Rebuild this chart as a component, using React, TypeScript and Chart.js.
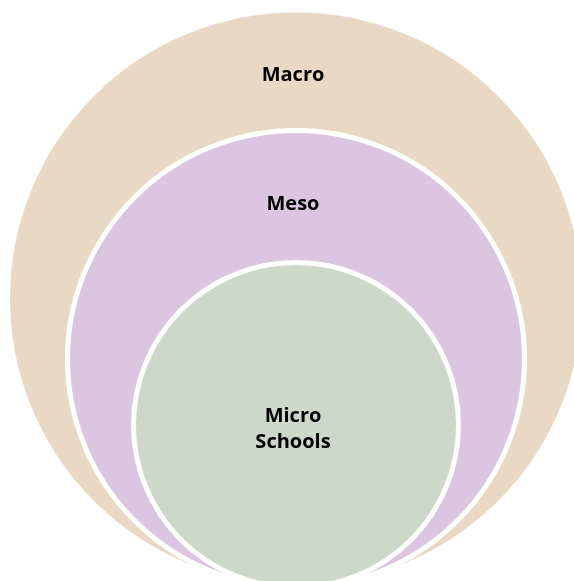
import React, { useEffect, useRef } from "react";
import { Chart, registerables } from "chart.js";

Chart.register(...registerables);

// Nested circles (stacked Venn): outermost first
const categories: string[][] = [["Macro"], ["Meso"], ["Micro", "Schools"]];
const centerX: number[] = [296, 296, 296];
const centerY: number[] = [298.5, 359, 425];
const radii: number[] = [288.5, 228.5, 162.5];
const labelX: number[] = [293, 293, 293];
const labelY: number[] = [75, 204, 429];
const fillColors: string[] = ["#E9D8C3", "#DCC5E0", "#CDD8C9"];

const WIDTH = 574;
const HEIGHT = 581;

const labelPlugin = {
  id: "circleLabels",
  afterDatasetsDraw(chart: any) {
    const { ctx, scales } = chart;
    ctx.save();
    ctx.fillStyle = "#000000";
    ctx.textAlign = "center";
    ctx.textBaseline = "middle";
    ctx.font = "bold 20px 'Open Sans', sans-serif";
    const lineH = 26;
    categories.forEach((lines, i) => {
      const x = scales.x.getPixelForValue(labelX[i]);
      const y = scales.y.getPixelForValue(labelY[i]);
      const start = y - ((lines.length - 1) * lineH) / 2;
      lines.forEach((t, j) => ctx.fillText(t, x, start + j * lineH));
    });
    ctx.restore();
  },
};

export default function App() {
  const ref = useRef<HTMLCanvasElement | null>(null);

  useEffect(() => {
    document.body.style.margin = "0";
    const canvas = ref.current;
    if (!canvas) return;
    const chart = new Chart(canvas, {
      type: "bubble",
      data: {
        labels: categories.map((c) => c.join(" ")),
        datasets: [
          {
            data: centerX.map((x, i) => ({ x, y: centerY[i], r: radii[i] })),
            backgroundColor: fillColors,
            borderColor: "#FFFFFF",
            borderWidth: 5,
            clip: false as any,
          },
        ],
      },
      options: {
        animation: false,
        responsive: true,
        maintainAspectRatio: false,
        events: [],
        layout: { padding: 0, autoPadding: false },
        plugins: {
          legend: { display: false },
          tooltip: { enabled: false },
        },
        scales: {
          x: { type: "linear", min: 0, max: WIDTH, display: false },
          y: { type: "linear", min: 0, max: HEIGHT, reverse: true, display: false },
        },
      },
      plugins: [labelPlugin],
    });
    return () => chart.destroy();
  }, []);

  return (
    <div style={{ position: "absolute", left: 0, top: 0, width: WIDTH, height: HEIGHT }}>
      <canvas ref={ref} />
    </div>
  );
}
